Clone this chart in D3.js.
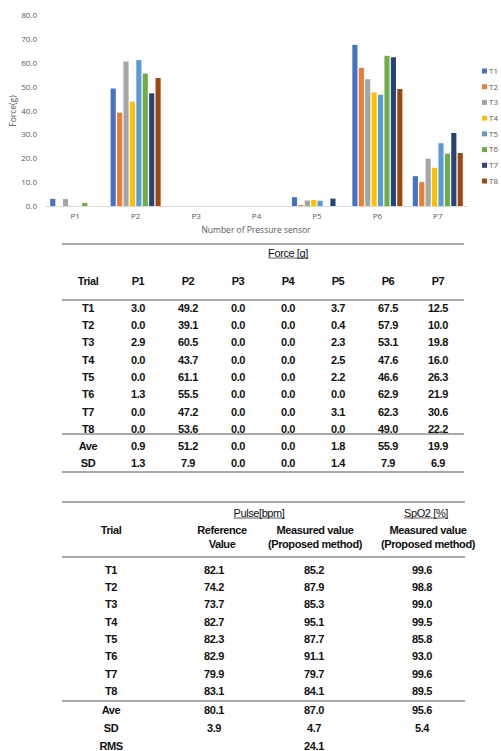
<!DOCTYPE html>
<html>
<head>
<meta charset="utf-8">
<script src="https://cdn.jsdelivr.net/npm/d3@7"></script>
<style>
  html, body { margin: 0; padding: 0; background: #fff; }
  svg { display: block; }
</style>
</head>
<body>
<svg id="fig" width="501" height="751"></svg>
<script>
// Sensors and trials
const sensors = ["P1", "P2", "P3", "P4", "P5", "P6", "P7"];
const trials = ["T1", "T2", "T3", "T4", "T5", "T6", "T7", "T8"];
const trialColors = ["#4472C4", "#ED7D31", "#A5A5A5", "#FFC000", "#5B9BD5", "#70AD47", "#264478", "#9E480E"];

// Force [g] per trial, one value per sensor P1..P7
const forceT1 = [3.0, 49.2, 0.0, 0.0, 3.7, 67.5, 12.5];
const forceT2 = [0.0, 39.1, 0.0, 0.0, 0.4, 57.9, 10.0];
const forceT3 = [2.9, 60.5, 0.0, 0.0, 2.3, 53.1, 19.8];
const forceT4 = [0.0, 43.7, 0.0, 0.0, 2.5, 47.6, 16.0];
const forceT5 = [0.0, 61.1, 0.0, 0.0, 2.2, 46.6, 26.3];
const forceT6 = [1.3, 55.5, 0.0, 0.0, 0.0, 62.9, 21.9];
const forceT7 = [0.0, 47.2, 0.0, 0.0, 3.1, 62.3, 30.6];
const forceT8 = [0.0, 53.6, 0.0, 0.0, 0.0, 49.0, 22.2];
const forceAve = [0.9, 51.2, 0.0, 0.0, 1.8, 55.9, 19.9];
const forceSD = [1.3, 7.9, 0.0, 0.0, 1.4, 7.9, 6.9];
const forceRows = [forceT1, forceT2, forceT3, forceT4, forceT5, forceT6, forceT7, forceT8];

// Pulse [bpm] and SpO2 [%] per trial
const pulseReference = [82.1, 74.2, 73.7, 82.7, 82.3, 82.9, 79.9, 83.1];
const pulseMeasured = [85.2, 87.9, 85.3, 95.1, 87.7, 91.1, 79.7, 84.1];
const spo2Measured = [99.6, 98.8, 99.0, 99.5, 85.8, 93.0, 99.6, 89.5];
const summaryLabels = ["Ave", "SD", "RMS"];
const summaryReference = ["80.1", "3.9", ""];
const summaryMeasured = ["87.0", "4.7", "24.1"];
const summarySpo2 = ["95.6", "5.4", ""];

// Axis ticks
const yTicks = [0, 10, 20, 30, 40, 50, 60, 70, 80];

const svg = d3.select("#fig");
const chartFont = "'Open Sans', 'Noto Sans', sans-serif";
const tableFont = "'Liberation Sans', Arial, sans-serif";
const grey = "#595959";

// ---------- Grouped bar chart ----------
const x = d3.scaleBand().domain(sensors).range([45, 468]).padding(0);
const xInner = d3.scaleBand().domain(trials).range([5.2, x.bandwidth() - 5.2]).paddingInner(0.2);
const y = d3.scaleLinear().domain([0, 80]).range([206, 15]);

const chart = svg.append("g");

// y tick labels
const yAxis = chart.append("g")
  .attr("transform", "translate(41,0)")
  .call(d3.axisLeft(y).tickValues(yTicks).tickFormat(d3.format(".1f")).tickSize(0).tickPadding(4));
yAxis.select(".domain").remove();
yAxis.selectAll("text").attr("fill", grey).style("font-family", chartFont).style("font-size", "8px");

// bars
const groups = chart.selectAll("g.sensor")
  .data(sensors)
  .join("g")
  .attr("class", "sensor")
  .attr("transform", d => `translate(${x(d)},0)`);

groups.selectAll("rect")
  .data((s, si) => trials.map((t, ti) => ({ trial: t, ti, value: forceRows[ti][si] })))
  .join("rect")
  .attr("x", d => xInner(d.trial))
  .attr("width", xInner.bandwidth())
  .attr("y", d => y(d.value))
  .attr("height", d => y(0) - y(d.value))
  .attr("fill", d => trialColors[d.ti]);

// x axis
const xAxis = chart.append("g")
  .attr("transform", `translate(0,${y(0)})`)
  .call(d3.axisBottom(x).tickSize(0).tickPadding(7));
xAxis.select(".domain").attr("stroke", "#d9d9d9").attr("stroke-width", 1);
xAxis.selectAll("text").attr("fill", grey).style("font-family", chartFont).style("font-size", "8px");

// axis titles
chart.append("text")
  .attr("x", 256).attr("y", 233)
  .attr("text-anchor", "middle")
  .attr("fill", grey)
  .style("font-family", chartFont).style("font-size", "8.5px")
  .text("Number of Pressure sensor");

chart.append("text")
  .attr("transform", "translate(16,111) rotate(-90)")
  .attr("text-anchor", "middle")
  .attr("fill", grey)
  .style("font-family", chartFont).style("font-size", "8.5px")
  .text("Force(g)");

// legend
const legendY = d3.scalePoint().domain(trials).range([71, 181]);
const legend = chart.append("g").selectAll("g")
  .data(trials)
  .join("g")
  .attr("transform", d => `translate(482,${legendY(d)})`);
legend.append("rect")
  .attr("x", 0).attr("y", -2.5).attr("width", 5).attr("height", 5)
  .attr("fill", (d, i) => trialColors[i]);
legend.append("text")
  .attr("x", 7).attr("dy", "0.35em")
  .attr("fill", grey)
  .style("font-family", chartFont).style("font-size", "8px")
  .text(d => d);

// ---------- helpers for the tables ----------
function hline(g, y0, x0, x1) {
  g.append("line")
    .attr("x1", x0).attr("x2", x1).attr("y1", y0).attr("y2", y0)
    .attr("stroke", "#555").attr("stroke-width", 1.2);
}
function cell(g, txt, cx, cy, bold = true, size = 11) {
  return g.append("text")
    .attr("x", cx).attr("y", cy).attr("dy", "0.35em")
    .attr("text-anchor", "middle")
    .attr("fill", "#111")
    .style("font-family", tableFont)
    .style("font-size", size + "px")
    .style("font-weight", bold ? "bold" : "normal")
    .style("letter-spacing", "-0.4px")
    .text(txt);
}
function underlined(g, txt, cx, cy) {
  const t = cell(g, txt, cx, cy, false, 11);
  const bb = t.node().getBBox();
  g.append("line")
    .attr("x1", bb.x).attr("x2", bb.x + bb.width)
    .attr("y1", cy + 5).attr("y2", cy + 5)
    .attr("stroke", "#333").attr("stroke-width", 0.8);
}
const fmt = d3.format(".1f");

// ---------- Force table ----------
const t1 = svg.append("g");
const colX = d3.scalePoint().domain(["Trial"].concat(sensors)).range([88, 438]);
const rowY = d3.scalePoint().domain(trials).range([308, 429]);

hline(t1, 244, 62, 464);
underlined(t1, "Force [g]", 288, 253);
cell(t1, "Trial", colX("Trial"), 281);
sensors.forEach(s => cell(t1, s, colX(s), 281));
hline(t1, 300, 62, 464);

trials.forEach((t, ti) => {
  cell(t1, t, colX("Trial"), rowY(t));
  sensors.forEach((s, si) => cell(t1, fmt(forceRows[ti][si]), colX(s), rowY(t)));
});
hline(t1, 434, 62, 464);
const sumY1 = [446, 463];
[["Ave", forceAve], ["SD", forceSD]].forEach(([lab, arr], i) => {
  cell(t1, lab, colX("Trial"), sumY1[i]);
  sensors.forEach((s, si) => cell(t1, fmt(arr[si]), colX(s), sumY1[i]));
});
hline(t1, 472, 62, 464);

// ---------- Pulse / SpO2 table ----------
const t2 = svg.append("g");
const rowY2 = d3.scalePoint().domain(trials).range([570, 691]);
const cTrial = 111, cRef = 214, cMeas = 314, cSpo2 = 422;

hline(t2, 502, 62, 465);
underlined(t2, "Pulse[bpm]", 259, 513);
underlined(t2, "SpO2 [%]", 426, 513);
cell(t2, "Trial", cTrial, 530);
cell(t2, "Reference", 222, 530);
cell(t2, "Value", 222, 544);
cell(t2, "Measured value", 315, 530);
cell(t2, "(Proposed method)", 315, 544);
cell(t2, "Measured value", 428, 530);
cell(t2, "(Proposed method)", 428, 544);
hline(t2, 557, 62, 465);

trials.forEach((t, ti) => {
  cell(t2, t, cTrial, rowY2(t));
  cell(t2, fmt(pulseReference[ti]), cRef, rowY2(t));
  cell(t2, fmt(pulseMeasured[ti]), cMeas, rowY2(t));
  cell(t2, fmt(spo2Measured[ti]), cSpo2, rowY2(t));
});
hline(t2, 701, 62, 465);
const sumY2 = [710, 728, 746];
summaryLabels.forEach((lab, i) => {
  cell(t2, lab, cTrial, sumY2[i]);
  cell(t2, summaryReference[i], cRef, sumY2[i]);
  cell(t2, summaryMeasured[i], cMeas, sumY2[i]);
  cell(t2, summarySpo2[i], cSpo2, sumY2[i]);
});
</script>
</body>
</html>
